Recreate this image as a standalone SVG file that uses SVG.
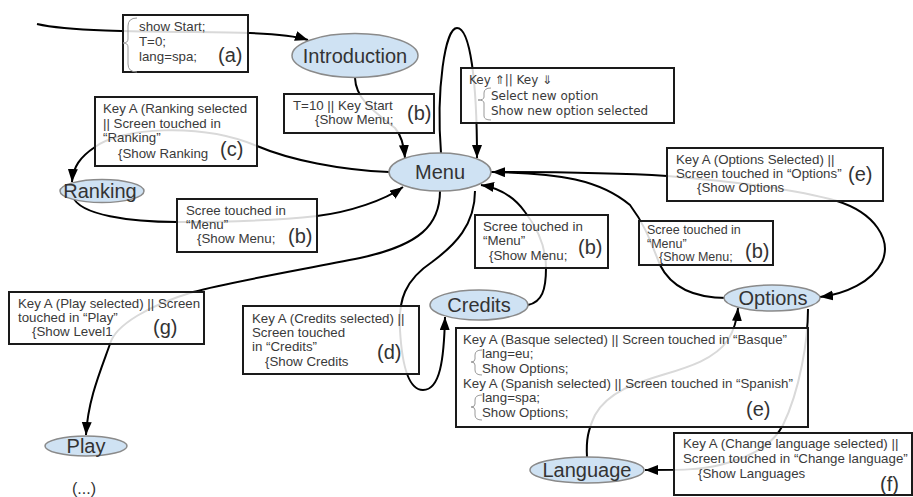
<svg xmlns="http://www.w3.org/2000/svg" width="913" height="497" viewBox="0 0 913 497">
<defs>
<marker id="arr" markerUnits="userSpaceOnUse" markerWidth="14" markerHeight="12" refX="13" refY="5" orient="auto">
<path d="M0,0 L13,5 L0,10 z" fill="#000"/>
</marker>
<style>
.node ellipse{fill:#cfe2f3;stroke:#8a8a8a;stroke-width:1.5}
.node text{font-family:"Liberation Sans",Arial,sans-serif;font-size:20px;fill:#333;text-anchor:middle}
.lbl rect{fill:#fff;fill-opacity:0.85;stroke:#1a1a1a;stroke-width:2}
.lbl text{font-family:"Liberation Sans",Arial,sans-serif;font-size:13.3px;fill:#3a3a3a}
.lbl text.sm{font-size:12.5px}
.lbl text.tag{font-size:20px;fill:#333}
.lbl text.dv{font-family:"DejaVu Sans",Verdana,sans-serif;font-size:12px}
.brace{fill:none;stroke:#999;stroke-width:1}
.edge{fill:none;stroke:#000;stroke-width:2}
.edge path.a{marker-end:url(#arr)}
.note{font-family:"Liberation Sans",Arial,sans-serif;font-size:16px;fill:#333;text-anchor:middle}
</style>
</defs>
<rect width="913" height="497" fill="#fff"/>

<g id="connectors" class="edge">
<path class="a" d="M37,24 C80,34 200,31 250,33 C280,34 296,36 308,40"/>
<path class="a" d="M355,78 C356,100 375,112 395,128 C402,136 404,146 405,158"/>
<path class="a" d="M441,153 C436,90 445,28 457,28 C470,28 477,80 477,158"/>
<path class="a" d="M389,172 C340,170 290,160 257,146 C200,122 120,128 95,147 C80,157 73,167 72,182"/>
<path class="a" d="M73,197 C80,215 130,222 177,222 C230,222 280,220 317,216 C350,212 385,200 403,187"/>
<path class="a" d="M491,172 C560,172 620,173 667,176 C740,182 800,190 837,201 C875,213 892,240 882,262 C872,282 845,294 820,297"/>
<path class="a" d="M727,298 C690,298 670,285 660,265 C650,240 645,225 630,205 C600,180 560,173 492,172"/>
<path class="a" d="M440,191 C440,225 420,245 360,258 C300,270 230,282 193,292 C150,305 115,325 110,344 C100,372 88,400 86,435"/>
<path class="a" d="M475,191 C475,225 455,245 432,262 C405,280 398,300 400,330 C402,365 408,390 423,390 C440,390 444,360 445,317"/>
<path class="a" d="M528,305 C542,302 546,290 546,268 C546,245 535,225 525,212 C515,198 500,188 481,185"/>
<path class="a" d="M808,309 C808,340 800,390 783,425 C775,440 760,455 720,465 C700,470 680,470 645,470"/>
<path class="a" d="M587,457 C586,440 588,430 595,415 C620,370 700,380 728,340 C734,330 737,320 738,308"/>
</g>

<g id="introduction" class="node"><ellipse cx="355" cy="55.5" rx="63" ry="22"/><text x="355" y="62.5">Introduction</text></g>
<g id="menu" class="node"><ellipse cx="440" cy="172" rx="51" ry="19"/><text x="440" y="179">Menu</text></g>
<g id="ranking" class="node"><ellipse cx="102" cy="191" rx="42" ry="11.5"/><text x="100" y="198">Ranking</text></g>
<g id="options" class="node"><ellipse cx="772" cy="298" rx="48" ry="13"/><text x="773" y="305">Options</text></g>
<g id="credits" class="node"><ellipse cx="479" cy="305" rx="49" ry="15"/><text x="479" y="312">Credits</text></g>
<g id="play" class="node"><ellipse cx="86" cy="446" rx="41" ry="10"/><text x="86" y="453">Play</text></g>
<g id="language" class="node"><ellipse cx="587" cy="470" rx="57" ry="13"/><text x="587" y="477">Language</text></g>

<g id="lbl-a" class="lbl">
<rect x="123" y="15" width="125" height="57"/>
<path class="brace" d="M137,18 Q128,18 128,26 L128,39 Q128,43 123,43 Q128,43 128,47 L128,64 Q128,72 137,72"/>
<text x="139" y="31">show Start;</text>
<text x="139" y="46">T=0;</text>
<text x="139" y="61">lang=spa;</text>
<text class="tag" x="218" y="62">(a)</text>
</g>

<g id="lbl-intro-menu" class="lbl">
<rect x="284" y="94" width="150" height="39"/>
<text x="293" y="110">T=10 || Key Start</text>
<text x="315" y="124">{Show Menu;</text>
<text class="tag" x="407" y="120">(b)</text>
</g>

<g id="lbl-keys" class="lbl">
<rect x="461" y="68" width="213" height="55"/>
<path class="brace" d="M491,88 Q484,88 484,93 L484,97 Q484,100 478,100 Q484,100 484,103 L484,116 Q484,120 491,120"/>
<text class="dv" x="469" y="84">Key ⇑|| Key ⇓</text>
<text class="dv" x="491" y="100">Select new option</text>
<text class="dv" x="491" y="115">Show new option selected</text>
</g>

<g id="lbl-c" class="lbl">
<rect x="95" y="97" width="162" height="69"/>
<text x="103" y="113">Key A (Ranking selected</text>
<text x="103" y="128">|| Screen touched in</text>
<text x="103" y="142">“Ranking”</text>
<text x="118" y="158">{Show Ranking</text>
<text class="tag" x="220" y="156">(c)</text>
</g>

<g id="lbl-rank-menu" class="lbl">
<rect x="177" y="199" width="140" height="53"/>
<text x="186" y="215">Scree touched in</text>
<text x="186" y="229">“Menu”</text>
<text x="197" y="243">{Show Menu;</text>
<text class="tag" x="288" y="243">(b)</text>
</g>

<g id="lbl-e-options" class="lbl">
<rect x="667" y="148" width="216" height="53"/>
<text x="676" y="164">Key A (Options Selected) ||</text>
<text x="676" y="178">Screen touched in “Options”</text>
<text x="697" y="192">{Show Options</text>
<text class="tag" x="848" y="181">(e)</text>
</g>

<g id="lbl-cred-menu" class="lbl">
<rect x="475" y="215" width="133" height="53"/>
<text x="483" y="231">Scree touched in</text>
<text x="483" y="245">“Menu”</text>
<text x="489" y="260">{Show Menu;</text>
<text class="tag" x="578" y="254">(b)</text>
</g>

<g id="lbl-opt-menu" class="lbl">
<rect x="639" y="221" width="134" height="44"/>
<text class="sm" x="647" y="234">Scree touched in</text>
<text class="sm" x="647" y="247.5">“Menu”</text>
<text class="sm" x="659" y="261">{Show Menu;</text>
<text class="tag" x="745" y="258">(b)</text>
</g>

<g id="lbl-g" class="lbl">
<rect x="9" y="292" width="195" height="52"/>
<text x="18" y="308">Key A (Play selected) || Screen</text>
<text x="18" y="322">touched in “Play”</text>
<text x="32" y="336">{Show Level1</text>
<text class="tag" x="153" y="334">(g)</text>
</g>

<g id="lbl-d" class="lbl">
<rect x="243" y="306" width="176" height="68"/>
<text x="252" y="323">Key A (Credits selected) ||</text>
<text x="252" y="337">Screen touched</text>
<text x="252" y="351">in “Credits”</text>
<text x="265" y="366">{Show Credits</text>
<text class="tag" x="377" y="359">(d)</text>
</g>

<g id="lbl-e-lang" class="lbl">
<rect x="456" y="328" width="352" height="99"/>
<path class="brace" d="M482,350 Q475,350 475,355 L475,359 Q475,362 471,362 Q475,362 475,365 L475,370 Q475,375 482,375"/>
<path class="brace" d="M482,395 Q475,395 475,400 L475,404 Q475,407 471,407 Q475,407 475,410 L475,415 Q475,420 482,420"/>
<text x="463" y="344">Key A (Basque selected) || Screen touched in “Basque”</text>
<text x="482" y="358">lang=eu;</text>
<text x="482" y="373">Show Options;</text>
<text x="463" y="388">Key A (Spanish selected) || Screen touched in “Spanish”</text>
<text x="482" y="402">lang=spa;</text>
<text x="482" y="417">Show Options;</text>
<text class="tag" x="746" y="416">(e)</text>
</g>

<g id="lbl-f" class="lbl">
<rect x="674" y="433" width="238" height="62"/>
<text x="683" y="448">Key A (Change language selected) ||</text>
<text x="683" y="463">Screen touched in “Change language”</text>
<text x="698" y="478">{Show Languages</text>
<text class="tag" x="880" y="491">(f)</text>
</g>

<text class="note" x="84" y="494">(...)</text>
</svg>
